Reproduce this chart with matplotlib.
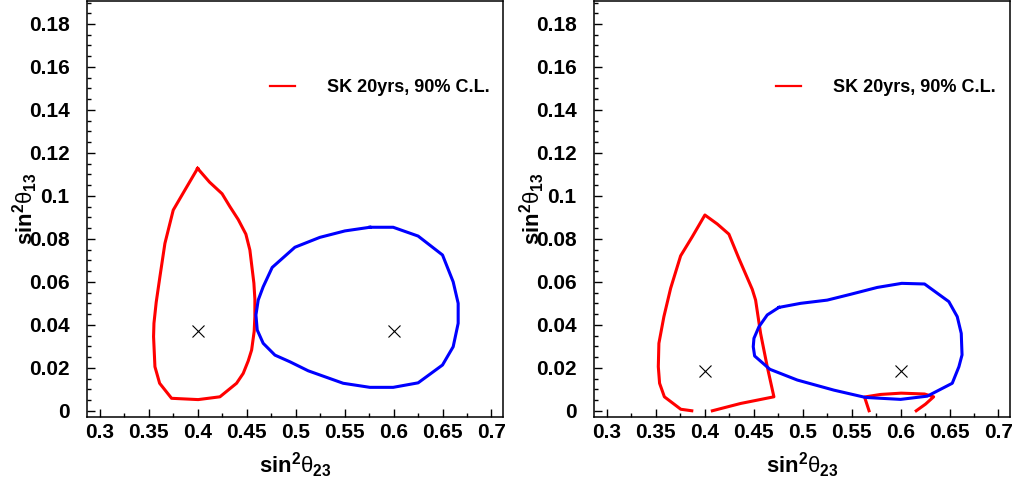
import matplotlib
matplotlib.use("Agg")
import matplotlib.pyplot as plt
from matplotlib.ticker import MultipleLocator, FormatStrFormatter

plt.rcParams['font.family'] = ['Liberation Sans', 'DejaVu Sans']
plt.rcParams['mathtext.fontset'] = 'custom'
plt.rcParams['mathtext.rm'] = 'Liberation Sans:bold'
plt.rcParams['mathtext.bf'] = 'Liberation Sans:bold'
plt.rcParams['mathtext.it'] = 'Liberation Sans'

# ---------------- data ----------------
legend_label = "SK 20yrs, 90% C.L."
xlabel_text = r'$\mathbf{sin^{2}}\theta_{\mathbf{23}}$'
ylabel_text = r'$\mathbf{sin^{2}}\theta_{\mathbf{13}}$'

# Left panel
left_red_x = [0.3998, 0.4120, 0.4248, 0.4328, 0.4413, 0.4491, 0.4532, 0.4573, 0.4583,
              0.4583, 0.4576, 0.4550, 0.4515, 0.4464, 0.4396, 0.4226, 0.4004, 0.3732,
              0.3610, 0.3562, 0.3548, 0.3552, 0.3575, 0.3613, 0.3664, 0.3749, 0.3868, 0.3998]
left_red_y = [0.1128, 0.1064, 0.1010, 0.0950, 0.0890, 0.0822, 0.0748, 0.0594, 0.0520,
              0.0438, 0.0370, 0.0283, 0.0232, 0.0174, 0.0128, 0.0065, 0.0052, 0.0058,
              0.0128, 0.0205, 0.0345, 0.0407, 0.0505, 0.0624, 0.0779, 0.0934, 0.1027, 0.1128]

left_blue_x = [0.5758, 0.5996, 0.6251, 0.6500, 0.6609, 0.6660, 0.6660, 0.6609, 0.6500,
               0.6251, 0.5996, 0.5758, 0.5485, 0.5128, 0.4941, 0.4788, 0.4668, 0.4607,
               0.4594, 0.4617, 0.4668, 0.4760, 0.4992, 0.5247, 0.5503, 0.5758]
left_blue_y = [0.0854, 0.0854, 0.0813, 0.0725, 0.0600, 0.0500, 0.0407, 0.0298, 0.0213,
               0.0130, 0.0109, 0.0109, 0.0128, 0.0186, 0.0228, 0.0259, 0.0314, 0.0376,
               0.0446, 0.0515, 0.0577, 0.0667, 0.0761, 0.0807, 0.0837, 0.0854]

left_best_x = [0.40, 0.60]
left_best_y = [0.0372, 0.0372]

# Right panel (red contour is open: two pieces ending at y = 0)
right_red1_x = [0.4077, 0.4366, 0.4706, 0.4638, 0.4570, 0.4519, 0.4485, 0.4348, 0.4246,
                0.4128, 0.4001, 0.3872, 0.3753, 0.3651, 0.3582, 0.3531, 0.3525, 0.3538,
                0.3587, 0.3755, 0.3867]
right_red1_y = [0.0000, 0.0034, 0.0065, 0.0205, 0.0360, 0.0515, 0.0565, 0.0709, 0.0822,
                0.0869, 0.0911, 0.0810, 0.0721, 0.0570, 0.0438, 0.0314, 0.0205, 0.0128,
                0.0065, 0.0007, 0.0000]
right_red2_x = [0.5678, 0.5632, 0.5796, 0.6006, 0.6245, 0.6338, 0.6255, 0.6160]
right_red2_y = [0.0000, 0.0064, 0.0076, 0.0082, 0.0078, 0.0065, 0.0031, 0.0000]

right_blue_x = [0.4757, 0.4979, 0.5251, 0.5489, 0.5762, 0.6012, 0.6245, 0.6493, 0.6579,
                0.6620, 0.6628, 0.6596, 0.6528, 0.6273, 0.6000, 0.5642, 0.5319, 0.4945,
                0.4665, 0.4509, 0.4495, 0.4502, 0.4553, 0.4638, 0.4757]
right_blue_y = [0.0481, 0.0500, 0.0515, 0.0542, 0.0574, 0.0593, 0.0590, 0.0508, 0.0438,
                0.0360, 0.0260, 0.0205, 0.0128, 0.0068, 0.0053, 0.0062, 0.0096, 0.0143,
                0.0193, 0.0255, 0.0298, 0.0337, 0.0391, 0.0446, 0.0481]

right_best_x = [0.40, 0.60]
right_best_y = [0.0187, 0.0187]

x_range = (0.2868, 0.7118)
y_range = (-0.0029, 0.1907)

# ---------------- figure ----------------
fig = plt.figure(figsize=(10.16, 4.87), dpi=100)
ax_l = fig.add_axes([87/1016, 1 - 417/487, 416/1016, 416/487])
ax_r = fig.add_axes([594/1016, 1 - 417/487, 416/1016, 416/487])

RED = '#ff0000'
BLUE = '#0000ff'
LW = 2.2


def style(ax):
    ax.set_xlim(*x_range)
    ax.set_ylim(*y_range)
    ax.xaxis.set_major_locator(MultipleLocator(0.05))
    ax.xaxis.set_minor_locator(MultipleLocator(0.025))
    ax.yaxis.set_major_locator(MultipleLocator(0.02))
    ax.yaxis.set_minor_locator(MultipleLocator(0.005))
    ax.xaxis.set_major_formatter(FormatStrFormatter('%g'))
    ax.yaxis.set_major_formatter(FormatStrFormatter('%g'))
    ax.tick_params(which='both', direction='in', top=False, right=False, width=1.0)
    ax.tick_params(which='major', length=6)
    ax.tick_params(which='minor', length=3)
    ax.tick_params(axis='x', which='major', pad=4.5)
    ax.tick_params(axis='y', which='major', pad=12.5)
    for lab in ax.get_xticklabels() + ax.get_yticklabels():
        lab.set_fontsize(15)
        lab.set_fontweight('bold')
    for sp in ax.spines.values():
        sp.set_linewidth(1.1)
    ax.set_xlabel(xlabel_text, fontsize=16)
    ax.xaxis.set_label_coords(0.5, -0.115)
    ax.xaxis.label.set_verticalalignment('center')
    ax.set_ylabel(ylabel_text, fontsize=16)
    ax.yaxis.set_label_coords(-0.149, 0.5)
    ax.yaxis.label.set_verticalalignment('center')


def add_legend(ax, x0):
    leg = ax.legend(loc='center left', bbox_to_anchor=(x0, 0.791), frameon=False,
                    handlelength=1.4, handletextpad=1.75, borderpad=0, borderaxespad=0,
                    prop={'size': 13, 'weight': 'bold'})
    for ln in leg.get_lines():
        ln.set_linewidth(1.6)


# Left panel
ax_l.plot(left_red_x, left_red_y, color=RED, lw=LW, label=legend_label)
ax_l.plot(left_blue_x, left_blue_y, color=BLUE, lw=LW)
ax_l.plot(left_best_x, left_best_y, ls='none', marker='x', ms=9, mew=0.8, color='black')
style(ax_l)
add_legend(ax_l, 0.44)

# Right panel
ax_r.plot(right_red1_x, right_red1_y, color=RED, lw=LW, label=legend_label)
ax_r.plot(right_red2_x, right_red2_y, color=RED, lw=LW)
ax_r.plot(right_blue_x, right_blue_y, color=BLUE, lw=LW)
ax_r.plot(right_best_x, right_best_y, ls='none', marker='x', ms=9, mew=0.8, color='black')
style(ax_r)
add_legend(ax_r, 0.4375)

fig.savefig('out.png', dpi=100)
